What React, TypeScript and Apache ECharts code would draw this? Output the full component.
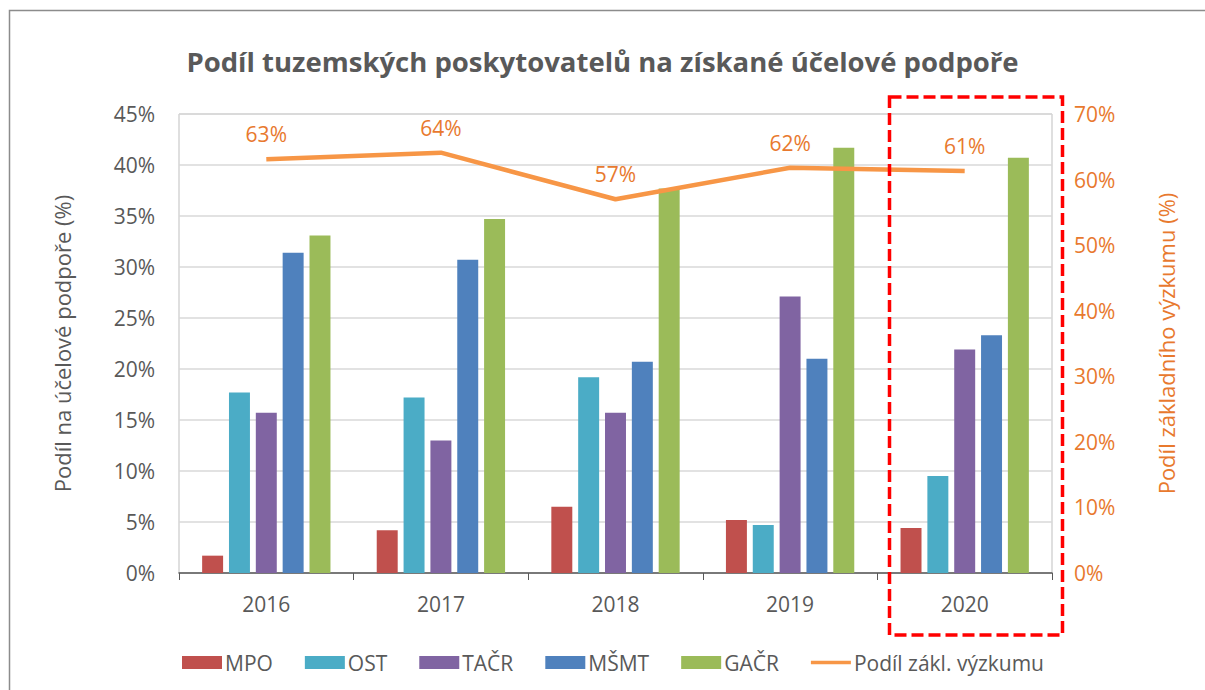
import React, { useEffect, useRef } from "react";
import * as echarts from "echarts";

const categories = ["2016", "2017", "2018", "2019", "2020"];
const mpo = [1.7, 4.2, 6.5, 5.2, 4.4];
const ost = [17.7, 17.2, 19.2, 4.7, 9.5];
const tacr = [15.7, 13.0, 15.7, 27.1, 21.9];
const msmt = [31.4, 30.7, 20.7, 21.0, 23.3];
const gacr = [33.1, 34.7, 37.7, 41.7, 40.7];
const zaklVyzkum = [63.1, 64.1, 57.0, 61.8, 61.3];

const FONT = "'Open Sans', 'Noto Sans', sans-serif";
const GREY = "#595959";
const ORANGE_TEXT = "#E8792E";
const ORANGE_LINE = "#F79646";

export default function App() {
  const ref = useRef<HTMLDivElement>(null);

  useEffect(() => {
    if (!ref.current) return;
    const chart = echarts.init(ref.current, undefined, { renderer: "svg" });

    const barSeries = (name: string, data: number[], color: string) => ({
      name,
      type: "bar",
      data,
      yAxisIndex: 0,
      barCategoryGap: "26.5%",
      barGap: "28%",
      itemStyle: { color },
    });

    chart.setOption({
      animation: false,
      backgroundColor: "#ffffff",
      textStyle: { fontFamily: FONT },
      title: {
        text: "Podíl tuzemských poskytovatelů na získané účelové podpoře",
        left: "center",
        top: 42,
        textStyle: { fontFamily: FONT, fontSize: 27.5, fontWeight: "bold", color: GREY },
      },
      grid: {
        left: 179,
        top: 114,
        width: 873,
        height: 459,
        show: true,
        borderColor: "#BFBFBF",
        borderWidth: 1,
        backgroundColor: "transparent",
      },
      legend: {
        bottom: 17,
        left: 182,
        padding: 0,
        itemWidth: 40,
        itemHeight: 13,
        itemGap: 32,
        textStyle: { fontFamily: FONT, fontSize: 21, color: GREY, padding: [0, 0, 0, -2] },
        data: [
          { name: "MPO", icon: "rect" },
          { name: "OST", icon: "rect" },
          { name: "TAČR", icon: "rect" },
          { name: "MŠMT", icon: "rect" },
          { name: "GAČR", icon: "rect" },
          {
            name: "Podíl zákl. výzkumu",
            icon: "path://M0,0H44V4H0Z",
            itemStyle: { color: ORANGE_LINE, opacity: 1, borderWidth: 0 },
          },
        ],
      },
      xAxis: {
        type: "category",
        data: categories,
        boundaryGap: true,
        axisLine: { show: true, lineStyle: { color: GREY, width: 1.5 } },
        axisTick: { show: true, length: 7, alignWithLabel: false, lineStyle: { color: GREY } },
        axisLabel: { fontFamily: FONT, fontSize: 21, color: GREY, margin: 20 },
      },
      yAxis: [
        {
          type: "value",
          min: 0,
          max: 45,
          interval: 5,
          position: "left",
          name: "Podíl na účelové podpoře (%)",
          nameLocation: "middle",
          nameGap: 106,
          nameTextStyle: { fontFamily: FONT, fontSize: 22, color: GREY },
          axisLine: { show: false },
          axisTick: { show: false },
          axisLabel: { fontFamily: FONT, fontSize: 21, color: GREY, margin: 24, formatter: "{value}%" },
          splitLine: { show: true, lineStyle: { color: "#D9D9D9", width: 1.5 } },
        },
        {
          type: "value",
          min: 0,
          max: 70,
          interval: 10,
          position: "right",
          name: "Podíl základního výzkumu (%)",
          nameLocation: "middle",
          nameGap: 103,
          nameTextStyle: { fontFamily: FONT, fontSize: 22, color: ORANGE_TEXT },
          axisLine: { show: false },
          axisTick: { show: false },
          axisLabel: { fontFamily: FONT, fontSize: 21, color: ORANGE_TEXT, margin: 22, formatter: "{value}%" },
          splitLine: { show: false },
        },
      ],
      series: [
        barSeries("MPO", mpo, "#C0504D"),
        barSeries("OST", ost, "#4BACC6"),
        barSeries("TAČR", tacr, "#8064A2"),
        barSeries("MŠMT", msmt, "#4F81BD"),
        barSeries("GAČR", gacr, "#9BBB59"),
        {
          name: "Podíl zákl. výzkumu",
          type: "line",
          yAxisIndex: 1,
          data: zaklVyzkum,
          symbol: "circle",
          symbolSize: 1,
          showSymbol: true,
          lineStyle: { color: ORANGE_LINE, width: 4.5 },
          itemStyle: { color: "rgba(0,0,0,0)", borderWidth: 0 },
          label: {
            show: true,
            position: "top",
            distance: 14,
            fontFamily: FONT,
            fontSize: 21,
            color: ORANGE_TEXT,
            formatter: (p: any) => Math.round(p.value) + "%",
          },
          z: 5,
        },
      ],
      graphic: [
        {
          type: "rect",
          shape: { x: 9.5, y: 10.5, width: 1300, height: 800 },
          style: { fill: "none", stroke: "#8C8C8C", lineWidth: 1.5 },
          silent: true,
        },
        {
          type: "rect",
          shape: { x: 889.5, y: 97, width: 173, height: 538 },
          style: { fill: "none", stroke: "#FF0000", lineWidth: 3.5, lineDash: [12, 5] },
          silent: true,
          z: 100,
        },
      ],
    });

    return () => chart.dispose();
  }, []);

  return (
    <div
      ref={ref}
      style={{ position: "absolute", left: 0, top: 0, width: 1205, height: 690, background: "#fff" }}
    />
  );
}
